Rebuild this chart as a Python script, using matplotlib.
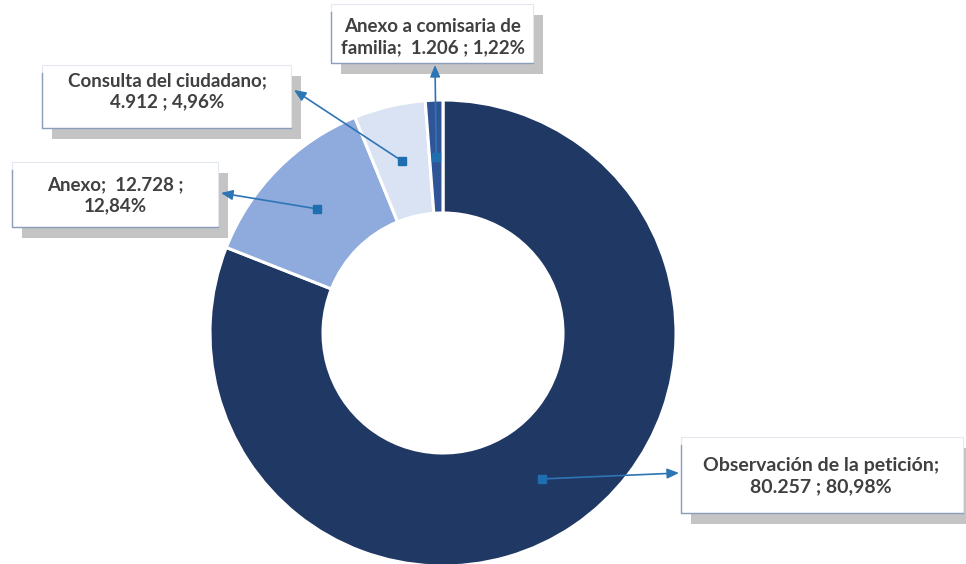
import matplotlib
matplotlib.use("Agg")
import matplotlib.pyplot as plt
from matplotlib.patches import Rectangle
import numpy as np

# ---- data ----
categories = ["Observación de la petición", "Anexo", "Consulta del ciudadano",
              "Anexo a comisaria de familia"]
values = [80257, 12728, 4912, 1206]
percents = [80.98, 12.84, 4.96, 1.22]
labels = ["Observación de la petición;\n80.257 ; 80,98%",
          "Anexo;  12.728 ;\n12,84%",
          "Consulta del ciudadano;\n4.912 ; 4,96%",
          "Anexo a comisaria de\nfamilia;  1.206 ; 1,22%"]
colors = ["#203864", "#8FAADC", "#DAE3F3", "#2F5597"]

W, H = 966, 564
fig = plt.figure(figsize=(W / 100, H / 100), dpi=100)
ax = fig.add_axes([0, 0, 1, 1])

def Y(y):
    return H - y

cx, cy = 443, Y(333)
R, w = 233, 113
ax.pie(values, colors=colors, startangle=90, counterclock=False,
       radius=R, center=(cx, cy),
       wedgeprops=dict(width=w, edgecolor="white", linewidth=2.2))
ax.set_xlim(0, W)
ax.set_ylim(0, H)
ax.set_aspect("equal")
ax.axis("off")

# box geometry in pixel coords: (left, top, right, bottom), text center, arrow tip, font size
boxes = [
    ((681, 437, 963, 513), (821, 476), (679, 473), 14),
    ((12, 162, 218, 227), (115, 195), (221, 193), 13.5),
    ((42, 65, 291, 128), (167, 91), (294, 90), 13.5),
    ((331, 4, 533, 63), (433, 37), (435, 65), 13.5),
]

total = sum(values)
cum = 0.0
rmid = R - w / 2
for i, v in enumerate(values):
    mid = np.deg2rad(90 - 360 * (cum + v / 2) / total)
    cum += v
    mx, my = cx + rmid * np.cos(mid), cy + rmid * np.sin(mid)
    (l, t, r, b), (tx, ty), (ax_, ay_), fs = boxes[i]
    # shadow
    ax.add_patch(Rectangle((l + 10, Y(b + 11)), r - l, b - t, facecolor="#C4C4C4",
                           edgecolor="none", zorder=3))
    ax.add_patch(Rectangle((l, Y(b)), r - l, b - t, facecolor="white",
                           edgecolor="#E3E8F0", linewidth=0.8, zorder=4))
    ax.plot([l, l, r], [Y(t + 8), Y(b), Y(b)], color="#8C9DBA", lw=1.0, zorder=5)
    ax.text(tx, Y(ty), labels[i], ha="center", va="center", fontsize=fs,
            fontweight="bold", family=["Lato", "DejaVu Sans"], color="#404040",
            linespacing=1.3, zorder=6)
    ax.annotate("", xy=(ax_, Y(ay_)), xytext=(mx, my),
                arrowprops=dict(arrowstyle="-|>,head_length=0.7,head_width=0.3",
                                color="#2E75B6", lw=1.2, shrinkA=0, shrinkB=0),
                zorder=7)
    ax.plot([mx], [my], marker="s", ms=6, color="#1F6FB0", zorder=8)

fig.savefig("out.png", dpi=100)
